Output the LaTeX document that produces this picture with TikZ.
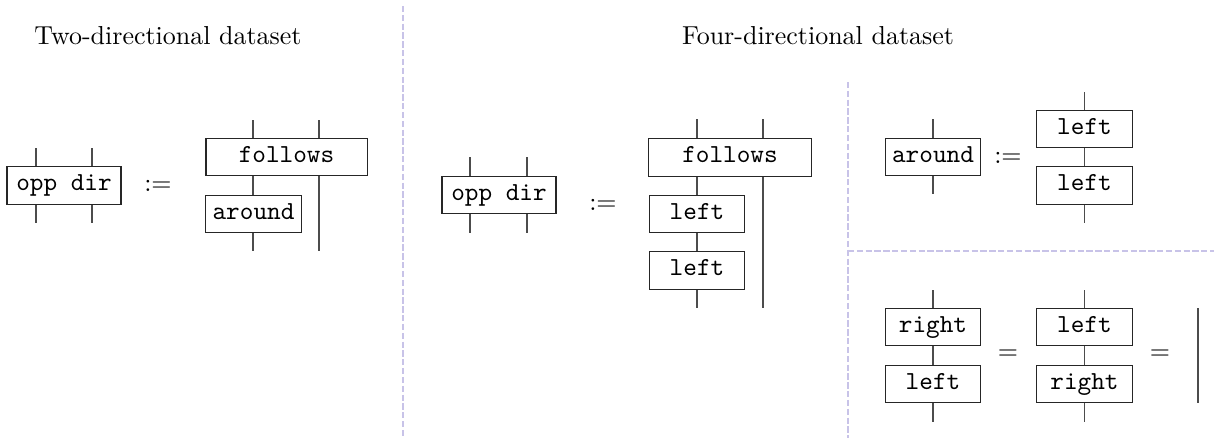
\documentclass[tikz,border=0pt]{standalone}
\usepackage{tikz}
\definecolor{divcol}{RGB}{200,195,232}
\begin{document}
\begin{tikzpicture}[x=0.385pt,y=-0.385pt,
  box/.style={draw=black!85,line width=0.4pt,font=\ttfamily,inner xsep=2pt,inner ysep=3pt,
    text height=6.2pt,text depth=2.2pt,minimum height=14.6pt,minimum width=36.6pt},
  wire/.style={draw=black!70,line width=0.45pt},
  divider/.style={draw=divcol,line width=0.8pt,dash pattern=on 2.4pt off 1pt},
  title/.style={anchor=base,inner sep=0pt},
  eqsym/.style={inner sep=0pt}]
\useasboundingbox (0,0) rectangle (1214,438);

% dividers
\coordinate (d1a) at (403,6);
\coordinate (d1b) at (403,438);
\coordinate (d2a) at (848,82);
\coordinate (d2b) at (848,438);
\coordinate (d3a) at (848,251);
\coordinate (d3b) at (1214,251);
\draw[divider] (d1a) -- (d1b);
\draw[divider] (d2a) -- (d2b);
\draw[divider] (d3a) -- (d3b);

% titles
\node[title] (tL) at (168,44) {Two-directional dataset};
\node[title] (tR) at (818,44) {Four-directional dataset};

% ---------- left panel ----------
\node[box,minimum width=43.9pt] (oppL) at (64,185.5) {opp dir};
\coordinate (oL1t) at (36,148); \coordinate (oL1b) at (36,223);
\coordinate (oL2t) at (92,148); \coordinate (oL2b) at (92,223);
\draw[wire] (oL1t) -- (oL1t |- oppL.north);
\draw[wire] (oL1b |- oppL.south) -- (oL1b);
\draw[wire] (oL2t) -- (oL2t |- oppL.north);
\draw[wire] (oL2b |- oppL.south) -- (oL2b);
\node[eqsym] (eqL) at (158,186) {$:=$};

\node[box,minimum width=62pt] (folL) at (286.5,157) {follows};
\node[box] (aroundL) at (253.5,214) {around};
\coordinate (fL1t) at (253,120); \coordinate (fL2t) at (319,120);
\coordinate (fL1b) at (253,251); \coordinate (fL2b) at (319,251);
\draw[wire] (fL1t) -- (fL1t |- folL.north);
\draw[wire] (fL2t) -- (fL2t |- folL.north);
\draw[wire] (fL1t |- folL.south) -- (fL1t |- aroundL.north);
\draw[wire] (fL1b |- aroundL.south) -- (fL1b);
\draw[wire] (fL2b |- folL.south) -- (fL2b);

% ---------- middle panel ----------
\node[box,minimum width=43.9pt] (oppM) at (499,195) {opp dir};
\coordinate (oM1t) at (470,157); \coordinate (oM1b) at (470,233);
\coordinate (oM2t) at (527,157); \coordinate (oM2b) at (527,233);
\draw[wire] (oM1t) -- (oM1t |- oppM.north);
\draw[wire] (oM1b |- oppM.south) -- (oM1b);
\draw[wire] (oM2t) -- (oM2t |- oppM.north);
\draw[wire] (oM2b |- oppM.south) -- (oM2b);
\node[eqsym] (eqM) at (603,205) {$:=$};

\node[box,minimum width=62.4pt] (folM) at (730,157.5) {follows};
\node[box] (leftM1) at (697,214) {left};
\node[box] (leftM2) at (697,270.5) {left};
\coordinate (fM1t) at (697,119); \coordinate (fM2t) at (763,119);
\coordinate (fM1b) at (697,308); \coordinate (fM2b) at (763,308);
\draw[wire] (fM1t) -- (fM1t |- folM.north);
\draw[wire] (fM2t) -- (fM2t |- folM.north);
\draw[wire] (fM1t |- folM.south) -- (leftM1.north);
\draw[wire] (leftM1.south) -- (leftM2.north);
\draw[wire] (leftM2.south) -- (fM1b);
\draw[wire] (fM2b |- folM.south) -- (fM2b);

% ---------- right top panel ----------
\node[box] (aroundR) at (933,157) {around};
\coordinate (aRt) at (933,119); \coordinate (aRb) at (933,194);
\draw[wire] (aRt) -- (aroundR.north);
\draw[wire] (aroundR.south) -- (aRb);
\node[eqsym] (eqRT) at (1008,158) {$:=$};

\node[box] (leftR1) at (1084.5,129) {left};
\node[box] (leftR2) at (1084.5,185.5) {left};
\coordinate (lRt) at (1084.5,92); \coordinate (lRb) at (1084.5,223);
\draw[wire] (lRt) -- (leftR1.north);
\draw[wire] (leftR1.south) -- (leftR2.north);
\draw[wire] (leftR2.south) -- (lRb);

% ---------- right bottom panel ----------
\node[box] (rightB1) at (933,327) {right};
\node[box] (leftB1) at (933,384) {left};
\coordinate (b1t) at (933,290); \coordinate (b1b) at (933,422);
\draw[wire] (b1t) -- (rightB1.north);
\draw[wire] (rightB1.south) -- (leftB1.north);
\draw[wire] (leftB1.south) -- (b1b);
\node[eqsym] (eqB1) at (1008,355) {$=$};

\node[box] (leftB2) at (1084.5,327) {left};
\node[box] (rightB2) at (1084.5,384) {right};
\coordinate (b2t) at (1084.5,290); \coordinate (b2b) at (1084.5,422);
\draw[wire] (b2t) -- (leftB2.north);
\draw[wire] (leftB2.south) -- (rightB2.north);
\draw[wire] (rightB2.south) -- (b2b);
\node[eqsym] (eqB2) at (1160,355) {$=$};

\coordinate (idt) at (1198,308); \coordinate (idb) at (1198,403);
\draw[wire] (idt) -- (idb);
\end{tikzpicture}
\end{document}
